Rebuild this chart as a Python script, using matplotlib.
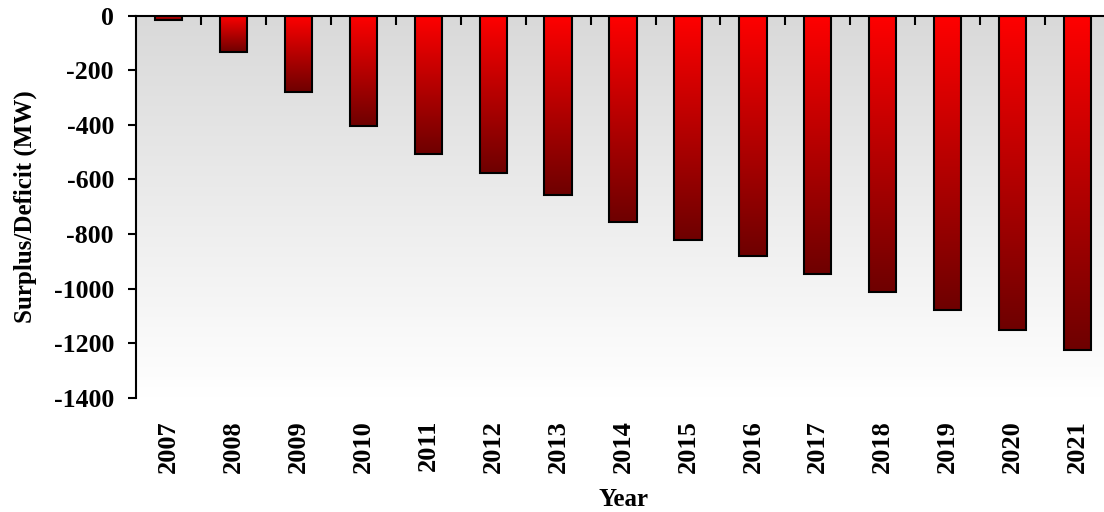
import numpy as np
import matplotlib
matplotlib.use("Agg")
import matplotlib.pyplot as plt
from matplotlib.colors import LinearSegmentedColormap

plt.rcParams['font.family'] = ['Liberation Serif', 'DejaVu Serif']
plt.rcParams['font.weight'] = 'bold'
plt.rcParams['font.size'] = 18

years = ['2007', '2008', '2009', '2010', '2011', '2012', '2013', '2014',
         '2015', '2016', '2017', '2018', '2019', '2020', '2021']
deficit = [-17, -133, -279, -404, -506, -578, -658, -755,
           -822, -880, -946, -1013, -1078, -1151, -1224]
yticks = [0, -200, -400, -600, -800, -1000, -1200, -1400]

fig = plt.figure(figsize=(11.04, 5.12), dpi=100)
ax = fig.add_axes([0.1233, 0.2232, 0.8821, 0.7465])

x = np.arange(len(years))
bars = ax.bar(x, deficit, width=0.42, facecolor='none', edgecolor='black',
              linewidth=1.5, zorder=3)

# red gradient inside each bar (bright at the top, dark at the bottom)
red_cmap = LinearSegmentedColormap.from_list('reds', ['#ff0000', '#6e0000'])
grad = np.linspace(0, 1, 256).reshape(-1, 1)
for b in bars:
    x0 = b.get_x()
    x1 = x0 + b.get_width()
    y0 = b.get_y()
    y1 = y0 + b.get_height()
    ax.imshow(grad, cmap=red_cmap, extent=[x0, x1, min(y0, y1), max(y0, y1)],
              origin='upper', aspect='auto', zorder=2)

# gray-to-white background in the plot area
bg_cmap = LinearSegmentedColormap.from_list('bg', ['#d9d9d9', '#ffffff'])
ax.imshow(grad, cmap=bg_cmap, extent=[0, 1, 0, 1], transform=ax.transAxes,
          origin='upper', aspect='auto', zorder=0)

ax.set_xlim(-0.5, len(years) - 0.5)
ax.set_ylim(-1400, 0)
ax.set_yticks(yticks)
ax.set_yticklabels([str(v) for v in yticks], fontweight='bold', fontsize=18.5)

ax.set_xticks(x)
ax.set_xticklabels(years, rotation=90, fontweight='bold', fontsize=19)
ax.set_xticks(x[:-1] + 0.5, minor=True)
ax.tick_params(axis='x', which='major', length=0, pad=16)
ax.tick_params(axis='x', which='minor', top=True, bottom=False, direction='in',
               length=6.5, width=1.5)
ax.tick_params(axis='y', which='major', direction='out', length=6, width=1.5, pad=10)

for s in ['right', 'bottom']:
    ax.spines[s].set_visible(False)
for s in ['left', 'top']:
    ax.spines[s].set_linewidth(1.5)
    ax.spines[s].set_zorder(4)

ax.set_xlabel('Year', fontweight='bold', labelpad=11)
ax.set_ylabel('Surplus/Deficit (MW)', fontweight='bold', labelpad=12)

fig.savefig('out.png', dpi=100)
